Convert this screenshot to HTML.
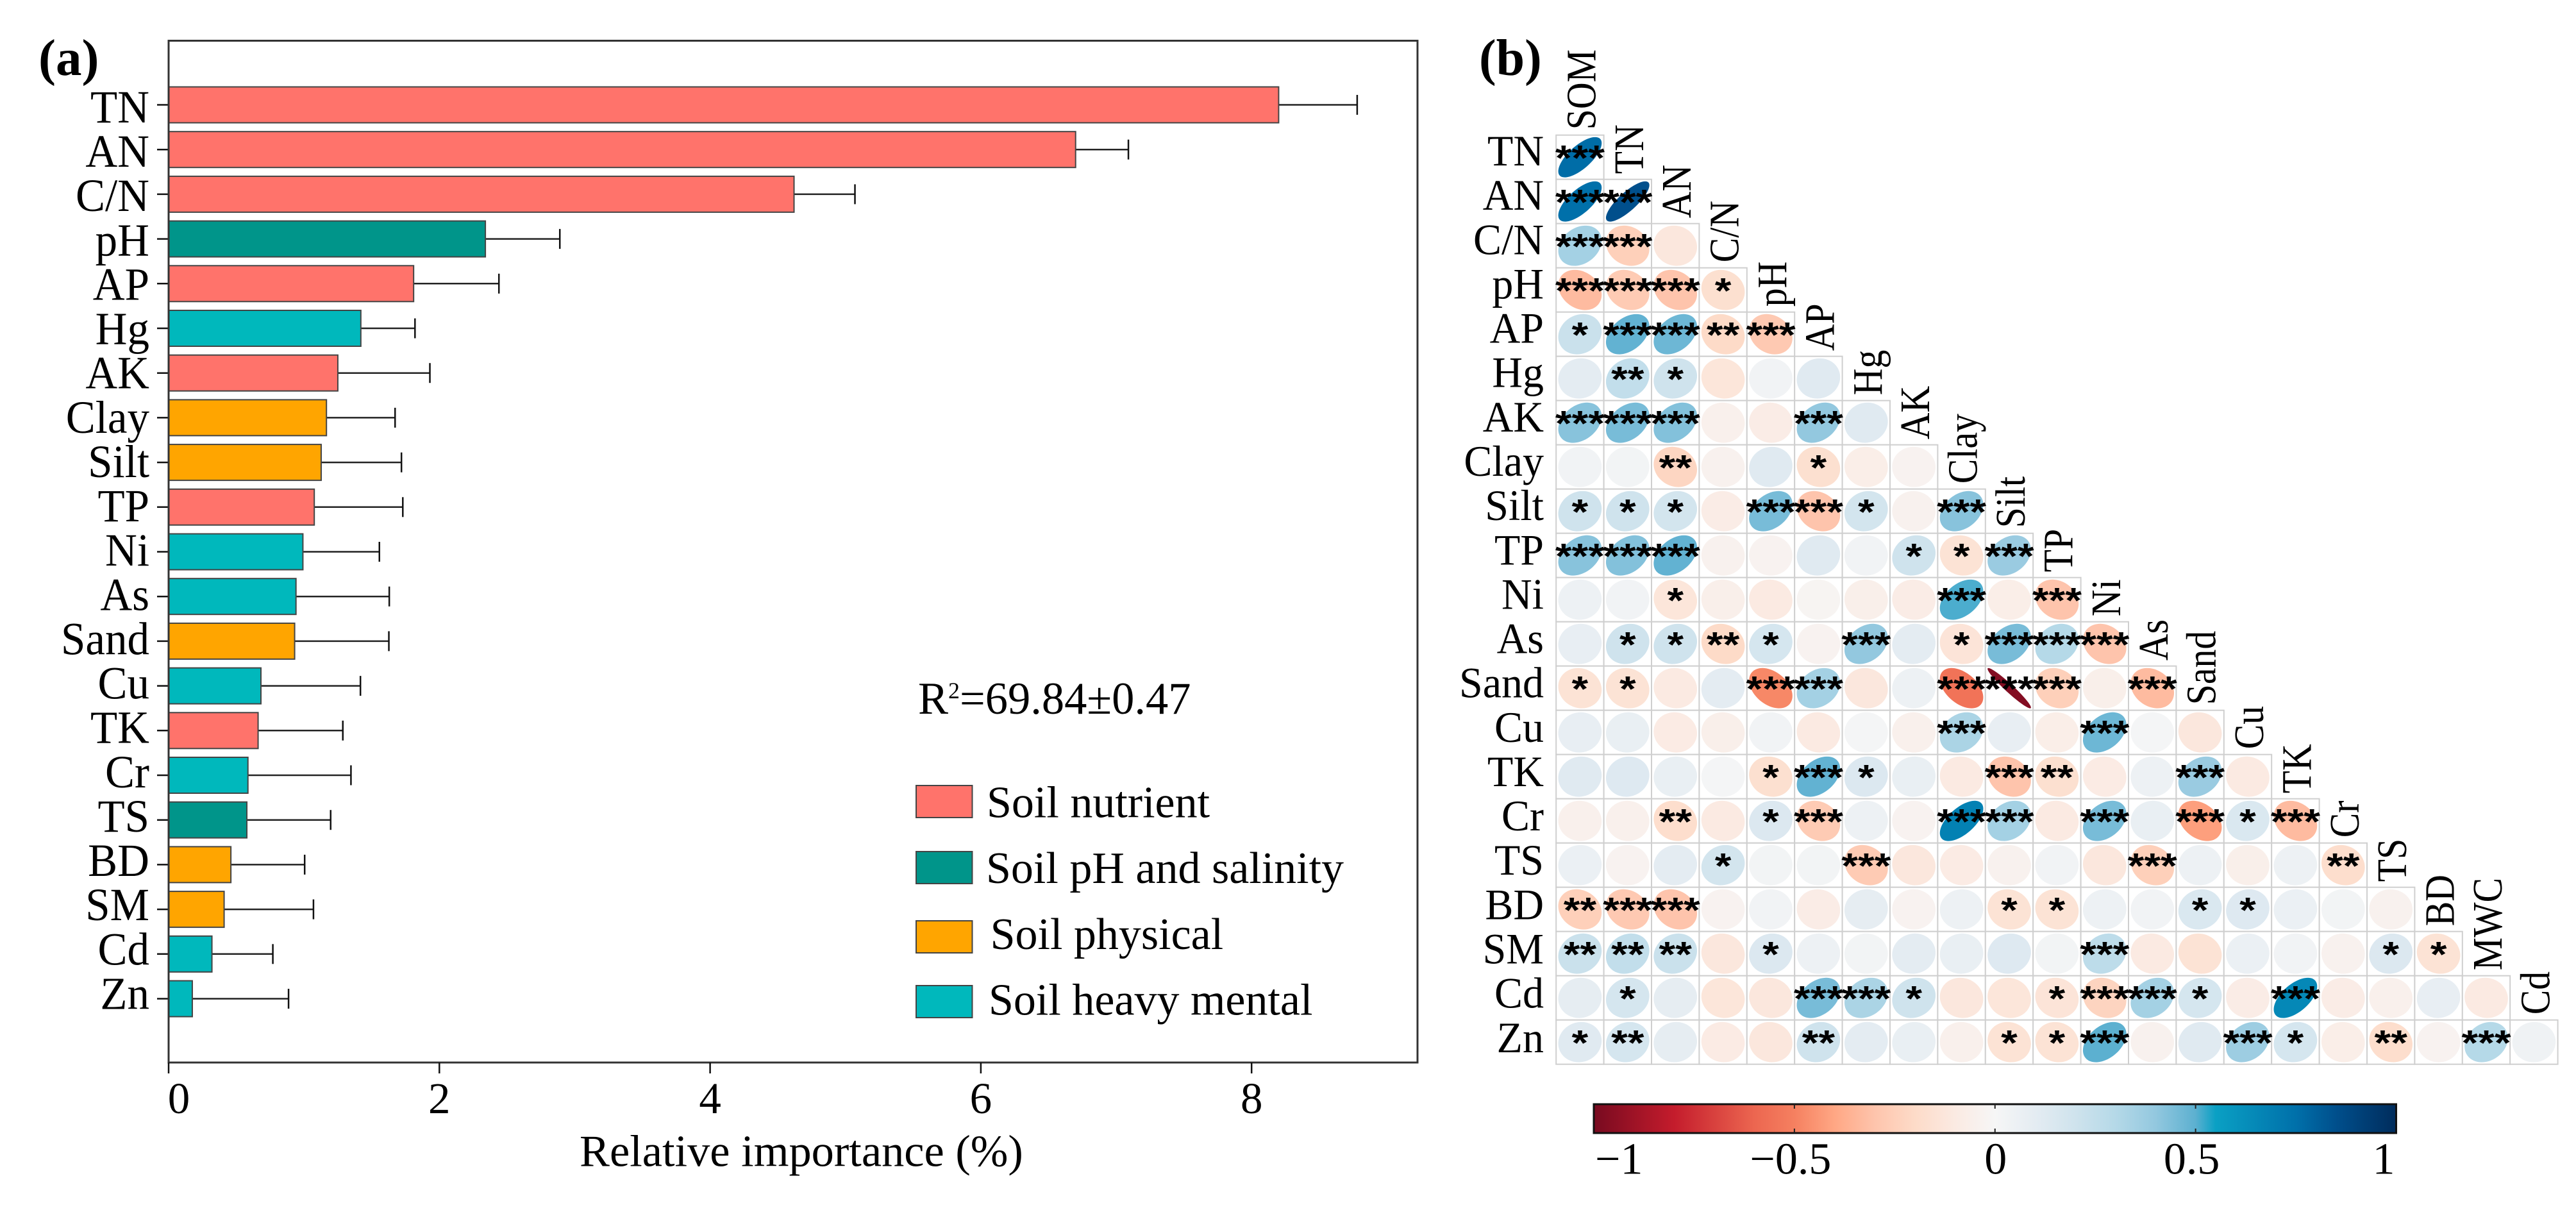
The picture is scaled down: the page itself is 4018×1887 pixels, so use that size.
<!DOCTYPE html>
<html lang="en">
<head>
<meta charset="utf-8">
<title>Relative importance and correlation matrix</title>
<style>
  html, body { margin: 0; padding: 0; background: #fff; width: 4018px; height: 1887px; overflow: hidden; }
  svg { display: block; }
  text { font-family: "Liberation Serif", serif; fill: #000; font-kerning: none; }
</style>
</head>
<body>
<svg id="fig" xmlns="http://www.w3.org/2000/svg" width="4018" height="1887" viewBox="0 0 4018 1887">
  <defs>
    <linearGradient id="cbar-gradient" x1="0" x2="1" y1="0" y2="0"></linearGradient>
  </defs>
  <rect x="0" y="0" width="4018" height="1887" fill="#fff"></rect>
  <g id="panel-a"></g>
  <g id="panel-b"></g>
  <g id="colorbar"></g>
</svg>
<script>
// ---------- Panel (a) data ----------
const barCategories = ["TN","AN","C/N","pH","AP","Hg","AK","Clay","Silt","TP","Ni","As","Sand","Cu","TK","Cr","TS","BD","SM","Cd","Zn"];
const barValues = [8.2,6.7,4.62,2.34,1.81,1.42,1.25,1.166,1.127,1.076,0.992,0.941,0.931,0.682,0.661,0.586,0.578,0.46,0.41,0.32,0.175];
const barErrorEnds = [8.78,7.09,5.07,2.89,2.44,1.82,1.93,1.673,1.72,1.73,1.557,1.63,1.627,1.417,1.287,1.347,1.197,1.005,1.07,0.77,0.886];
const barGroups = ["nutrient","nutrient","nutrient","salinity","nutrient","metal","nutrient","physical","physical","nutrient","metal","metal","physical","metal","nutrient","metal","salinity","physical","physical","metal","metal"];
const xTickValues = [0,2,4,6,8];
const legendKeys = ["nutrient","salinity","physical","metal"];
const legendLabels = ["Soil nutrient","Soil pH and salinity","Soil physical","Soil heavy mental"];
const groupColors = {nutrient:"#FF736B", salinity:"#00958A", physical:"#FFA500", metal:"#00B8BC"};

// ---------- Panel (b) data ----------
const rowLabels = ["TN","AN","C/N","pH","AP","Hg","AK","Clay","Silt","TP","Ni","As","Sand","Cu","TK","Cr","TS","BD","SM","Cd","Zn"];
const colLabels = ["SOM","TN","AN","C/N","pH","AP","Hg","AK","Clay","Silt","TP","Ni","As","Sand","Cu","TK","Cr","TS","BD","MWC","Cd"];
const corrValues = [
  [.76],
  [.75,.85],
  [.35,-.25,-.12],
  [-.33,-.27,-.3,-.17],
  [.22,.49,.47,-.2,-.28],
  [.1,.25,.2,-.13,.03,.12],
  [.42,.45,.43,-.05,-.08,.4,.12],
  [.03,.02,-.22,-.04,.12,-.17,-.07,-.03],
  [.2,.2,.18,-.08,.45,-.3,.18,-.04,.42],
  [.42,.43,.49,-.04,-.03,.12,.03,.2,-.15,.38],
  [.05,.03,-.13,-.06,-.1,-.02,-.06,-.08,.51,-.07,-.3],
  [.08,.2,.2,-.2,.17,-.03,.4,.1,-.14,.45,.3,-.3],
  [-.15,-.15,-.1,.1,-.48,.35,-.12,.05,-.55,-.97,-.25,-.06,-.33],
  [.08,.07,-.09,-.06,.03,-.1,.01,-.05,.33,.08,-.07,.47,.01,-.12],
  [.12,.13,.07,.01,-.17,.49,.14,.07,-.1,-.3,-.17,-.09,.05,.38,-.1],
  [-.05,-.05,-.18,-.1,.14,-.27,.05,-.03,.68,.35,-.1,.45,.07,-.42,.15,-.33],
  [.06,-.03,.1,.18,.02,.02,-.27,-.12,-.09,-.04,.03,-.12,-.25,.05,-.06,.05,-.18],
  [-.25,-.28,-.3,-.03,.03,-.08,.09,-.03,.05,-.15,-.15,.05,.03,.15,.13,.06,.02,-.04],
  [.22,.25,.22,-.12,.14,.05,.02,.1,.07,.13,.02,.27,-.1,-.15,.06,.03,-.04,.14,-.15],
  [.09,.17,.09,-.13,-.12,.45,.33,.2,-.12,-.13,-.14,-.23,.35,.17,-.08,.65,-.08,-.05,.08,-.1],
  [.12,.17,.09,-.09,-.12,.2,.1,.07,-.05,-.15,-.15,.5,-.04,.12,.37,.17,-.07,-.18,-.03,.3,.04]
];
const starCounts = [
  [3],
  [3,3],
  [3,3,0],
  [3,3,3,1],
  [1,3,3,2,3],
  [0,2,1,0,0,0],
  [3,3,3,0,0,3,0],
  [0,0,2,0,0,1,0,0],
  [1,1,1,0,3,3,1,0,3],
  [3,3,3,0,0,0,0,1,1,3],
  [0,0,1,0,0,0,0,0,3,0,3],
  [0,1,1,2,1,0,3,0,1,3,3,3],
  [1,1,0,0,3,3,0,0,3,3,3,0,3],
  [0,0,0,0,0,0,0,0,3,0,0,3,0,0],
  [0,0,0,0,1,3,1,0,0,3,2,0,0,3,0],
  [0,0,2,0,1,3,0,0,3,3,0,3,0,3,1,3],
  [0,0,0,1,0,0,3,0,0,0,0,0,3,0,0,0,2],
  [2,3,3,0,0,0,0,0,0,1,1,0,0,1,1,0,0,0],
  [2,2,2,0,1,0,0,0,0,0,0,3,0,0,0,0,0,1,1],
  [0,1,0,0,0,3,3,1,0,0,1,3,3,1,0,3,0,0,0,0],
  [1,2,0,0,0,2,0,0,0,1,1,3,0,0,3,1,0,2,0,3,0]
];
const cbarTickValues = [-1,-0.5,0,0.5,1];
const cbarTickLabels = ["\u22121","\u22120.5","0","0.5","1"];
const cmapValues = [-1,-0.8,-0.6,-0.5,-0.4,-0.3,-0.2,-0.1,0,0.1,0.2,0.3,0.4,0.5,0.55,0.75,0.85,1];
const cmapColors = ["#780A20","#C41C2C","#EC6650","#F58060","#FFA784","#FEC4AC","#FDDBC8","#FBEAE2","#F6F6F6","#E4ECF2","#CFE3ED","#B5D9E8","#93C8DF","#5CB0D0","#0AA0C4","#0070AA","#004F8C","#002C5C"];

// ---------- helpers ----------
const NS = "http://www.w3.org/2000/svg";
function make(parent, tag, props, txt) {
  const n = document.createElementNS(NS, tag);
  for (const k in props) n.setAttribute(k, props[k]);
  if (txt !== undefined) n.textContent = txt;
  parent.appendChild(n);
  return n;
}
function hexToRgb(h) { return [1,3,5].map(i => parseInt(h.substr(i,2),16)); }
function colorFor(r) {
  for (let i = 0; i < cmapValues.length - 1; i++) {
    if (r <= cmapValues[i+1]) {
      const t = Math.max(0,(r - cmapValues[i]) / (cmapValues[i+1] - cmapValues[i]));
      const a = hexToRgb(cmapColors[i]), b = hexToRgb(cmapColors[i+1]);
      return "rgb(" + a.map((v,j) => Math.round(v + (b[j]-v)*t)).join(",") + ")";
    }
  }
  return cmapColors[cmapColors.length-1];
}

// ---------- Panel (a) ----------
const pa = document.getElementById("panel-a");
const xScale = v => 263 + v * 211.15;
const barY = i => 163.5 + i * 69.7;
const labelBase = i => 191 + i * 69.12;
const BAR_H = 56;

for (let i = 0; i < barCategories.length; i++) {
  const y = barY(i);
  const errLine = make(pa, "line", {x1:xScale(barValues[i]), x2:xScale(barErrorEnds[i]), y1:y, y2:y, stroke:"#222", "stroke-width":2.5});
  
  
  const errCap = make(pa, "line", {x1:xScale(barErrorEnds[i]), x2:xScale(barErrorEnds[i]), y1:y-15.5, y2:y+15.5, stroke:"#111", "stroke-width":2.5});
  
  
  const bar = make(pa, "rect", {x:xScale(0), y:y-BAR_H/2, width:xScale(barValues[i])-xScale(0), height:BAR_H, fill:groupColors[barGroups[i]], stroke:"#444", "stroke-width":2});
  
  
  const tick = make(pa, "line", {x1:245, x2:263, y1:y, y2:y, stroke:"#111", "stroke-width":2.5});
  
  
  const lab = make(pa, "text", {transform:"translate(233," + labelBase(i) + ") scale(1,1.04)", "text-anchor":"end", "font-size":69}, barCategories[i]);
  
  
}
const frame = make(pa, "rect", {x:263, y:63.5, width:1948, height:1593.5, fill:"none", stroke:"#333", "stroke-width":3});



xTickValues.forEach(function (v) {
  const tx = xScale(v);
  const t = make(pa, "line", {x1:tx, x2:tx, y1:1657, y2:1674, stroke:"#111", "stroke-width":2.5});
  
  
  const lx = v === 0 ? tx + 16 : tx;
  const l = make(pa, "text", {x:lx, y:1736, "text-anchor":"middle", "font-size":69}, String(v));
  
  
});
const xTitle = make(pa, "text", {x:904, y:1818.5, "font-size":70.4}, "Relative importance (%)");


const aTag = make(pa, "text", {x:60, y:116.8, "font-size":81, "font-weight":"bold"}, "(a)");



const r2 = make(pa, "text", {x:1432, y:1113, "font-size":70.5});


make(r2, "tspan", {}, "R");
make(r2, "tspan", {"font-size":36, dy:-24}, "2");
make(r2, "tspan", {dy:24}, "=69.84\u00B10.47");

// legend layout follows the order of legendKeys
const legendSwatchY = [1225,1328,1436,1537];
const legendTextX = [1539,1538,1544.6,1542];
const legendBase = [1274.5,1377,1480,1582.6];
legendKeys.forEach(function (key, i) {
  const sw = make(pa, "rect", {x:1429, y:legendSwatchY[i], width:87.5, height:50, fill:groupColors[key], stroke:"#444", "stroke-width":2});
  
  
  const tx = make(pa, "text", {x:legendTextX[i], y:legendBase[i], "font-size":70}, legendLabels[i]);
  
  
});

// ---------- Panel (b) ----------
const pb = document.getElementById("panel-b");
const GX = 2427.2, GY = 210.7, CW = 74.4, CH = 69.0;
const colX = c => GX + c * CW;
const rowY = r => GY + r * CH;

// the reference ellipses are rounder than a plain acos(r) shape at mid-range values
function ellipsePath(cx, cy, r, sx, sy) {
  const shaped = Math.sign(r) * Math.pow(Math.min(1, Math.abs(r)), 1.3);
  const d = Math.acos(shaped);
  let p = "";
  for (let k = 0; k < 72; k++) {
    const a = k / 72 * 2 * Math.PI;
    const ex = cx + sx * Math.cos(a + d/2);
    const ey = cy - sy * Math.cos(a - d/2);
    p += (k ? "L" : "M") + ex.toFixed(2) + " " + ey.toFixed(2);
  }
  return p + "Z";
}

corrValues.forEach(function (rowVals, r) {
  rowVals.forEach(function (val, c) {
    const cell = make(pb, "rect", {x:colX(c), y:rowY(r), width:CW, height:CH, fill:"#fff", stroke:"#CFCFCF", "stroke-width":2});
    
    
  });
});
corrValues.forEach(function (rowVals, r) {
  rowVals.forEach(function (val, c) {
    const cx = colX(c) + CW/2, cy = rowY(r) + CH/2;
    const el = make(pb, "path", {d:ellipsePath(cx, cy, val, CW*0.455, CH*0.455), fill:colorFor(val)});
    
    
  });
});
starCounts.forEach(function (rowStars, r) {
  rowStars.forEach(function (n, c) {
    if (!n) return;
    const cx = colX(c) + CW/2, cy = rowY(r) + CH/2;
    const st = make(pb, "text", {
      transform:"translate(" + cx + "," + (cy - 10.5 + 31) + ") scale(1,0.84)",
      "text-anchor":"middle", "font-size":66, "font-weight":"bold", style:"font-family:'Liberation Sans',sans-serif"
    }, "*".repeat(n));
    
    
  });
});
rowLabels.forEach(function (name, r) {
  const t = make(pb, "text", {transform:"translate(2408," + (258 + r * 69.14) + ") scale(1,1.03)", "text-anchor":"end", "font-size":66}, name);
  
  
});
colLabels.forEach(function (name, c) {
  const x = colX(c) + CW/2 + 24;
  const y = rowY(c) - 8.5;
  const t = make(pb, "text", {transform:"translate(" + x + "," + y + ") rotate(-90) scale(0.875,1)", "font-size":66}, name);
  
  
});
const bTag = make(pb, "text", {x:2307, y:116.8, "font-size":80, "font-weight":"bold"}, "(b)");



// ---------- Colorbar ----------
const cb = document.getElementById("colorbar");
const grad = document.getElementById("cbar-gradient");
cmapValues.forEach(function (v, i) {
  make(grad, "stop", {offset:((v + 1) / 2 * 100) + "%", "stop-color":cmapColors[i]});
});
const cbX = v => 2486 + (v + 1) / 2 * 1251.5;
const CB_T = 1722, CB_B = 1767;
const cbRect = make(cb, "rect", {x:cbX(-1), y:CB_T, width:cbX(1)-cbX(-1), height:CB_B-CB_T, fill:"url(#cbar-gradient)", stroke:"#111", "stroke-width":3});


cbarTickValues.forEach(function (v, i) {
  if (Math.abs(v) < 1) {
    const t1 = make(cb, "line", {x1:cbX(v), x2:cbX(v), y1:CB_T, y2:CB_T+7, stroke:"#222", "stroke-width":2});
    
    
    const t2 = make(cb, "line", {x1:cbX(v), x2:cbX(v), y1:CB_B-7, y2:CB_B, stroke:"#222", "stroke-width":2});
    
    
  }
  const anchor = v === -1 ? "start" : (v === 1 ? "end" : "middle");
  const off = v === -1 ? 2 : (v === 1 ? -2 : (v === 0 ? 1 : -6));
  const l = make(cb, "text", {x:cbX(v) + off, y:1830.5, "text-anchor":anchor, "font-size":70}, cbarTickLabels[i]);
  
  
});
</script>
</body>
</html>
